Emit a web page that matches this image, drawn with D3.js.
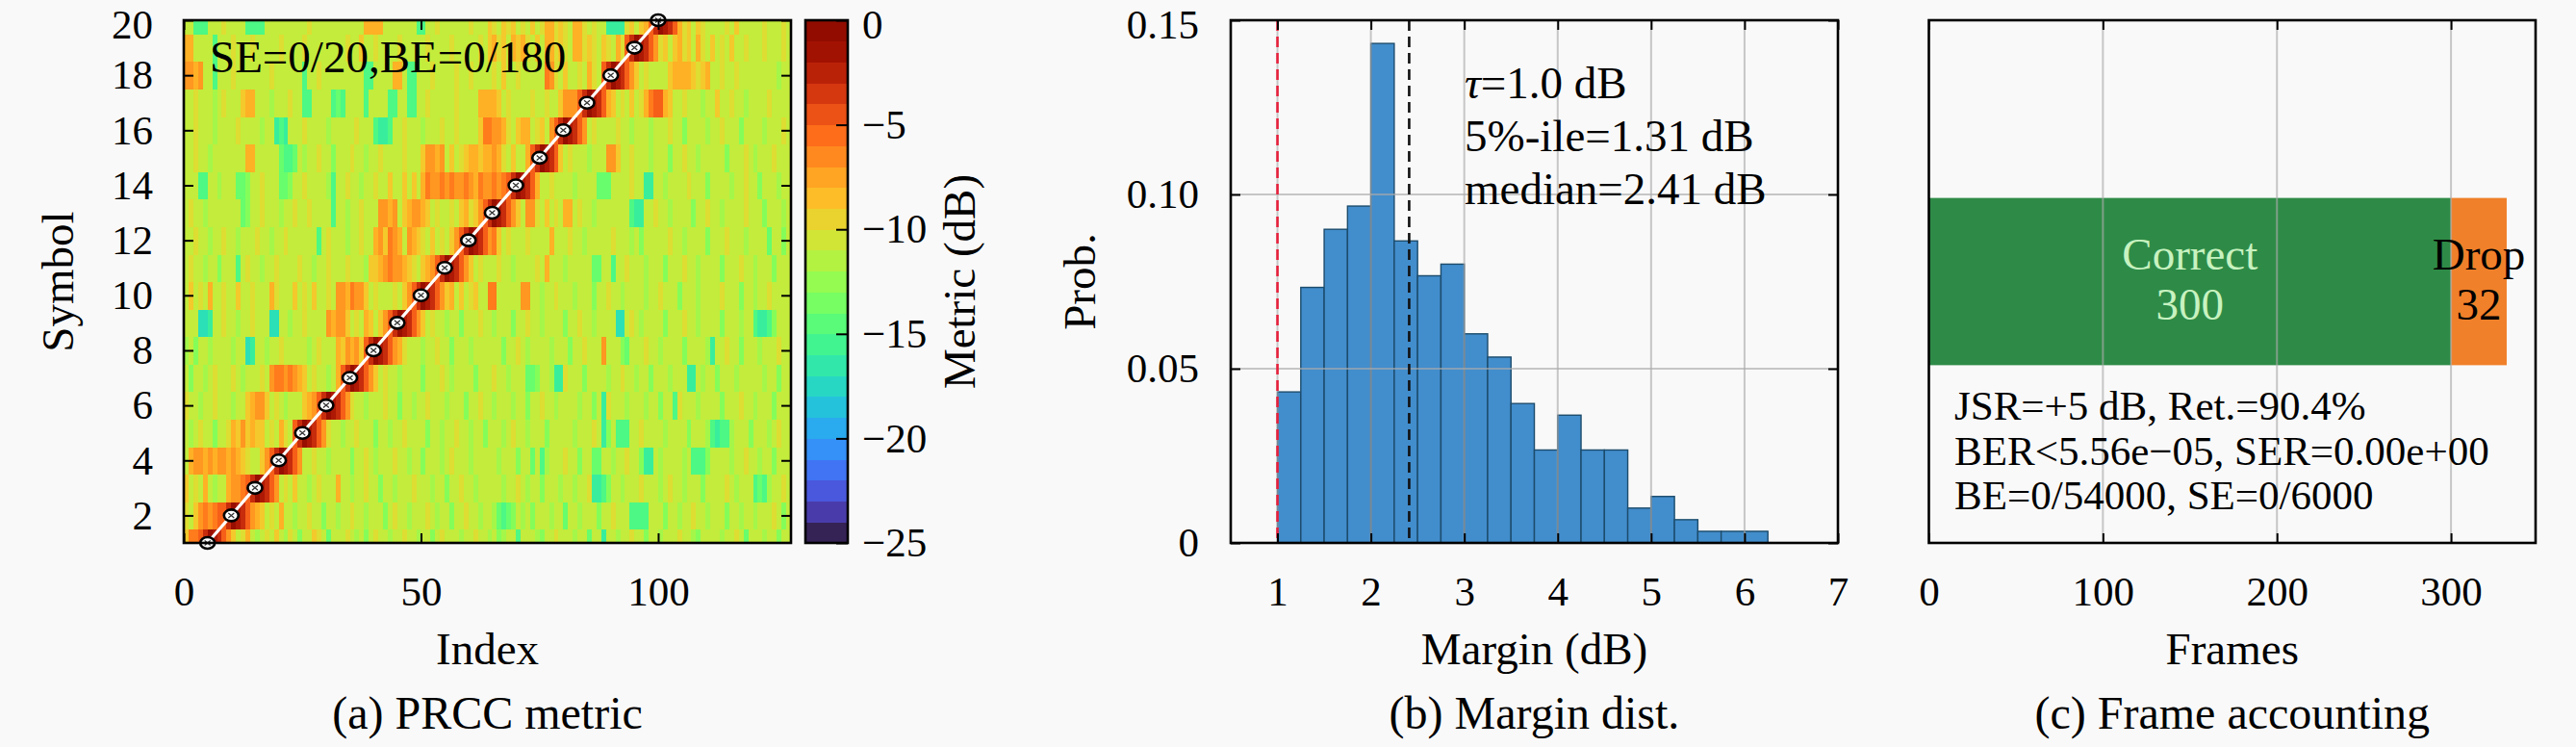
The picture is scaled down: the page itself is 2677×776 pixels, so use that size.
<!DOCTYPE html>
<html>
<head>
<meta charset="utf-8">
<script src="https://cdn.jsdelivr.net/npm/d3@7"></script>
<style>
  body { margin: 0; background: #f9f9f9; }
  svg { display: block; }
</style>
</head>
<body>
<svg id="fig"></svg>
<script>
// ---- data ----

// (a) metric per symbol row (symbol 1 first), one char per index 0..127,
// value in dB = -parseInt(char, 36)  ('0' = 0 dB ... 'b' = -11 dB ... 'h' = -17 dB)
var metricRows = [
  "96653123 579ba8bc bab9bcab dbb9abeb bbabcbdb abbcbbab bcbbdbab bbcbbabb cbdcbbfb bbcdbbab bbcbbebb gbbcbbab bdbbcbbb abbcdbbb bcbbabeb bbcbbdbb",
  "ab976765 53123578 9bab8bbc bbabbdbb cbbabbcb bbdbabbc bbbabcbb dbbabbcb bcefedbc bdbbbcbb ebbcbbbd bbabbbff ffbbbdbb cbbabbcb bbdbbcbb cbbbabdb",
  "9bab8bcb b8776531 2357bab9 bbcbabbb 8bbcbbab bdbbcbbb abbbcbbd bbabbcbb bbbcbbab cbbdbbbc bbcbbagg fdbbcbbb abbbcbab bcbbbdbb bbabcbbb fefcbbab",
  "b8778787 78789abb 97531235 7bbabbcb bbbdbbab cbbbabbc bbdbbbcb abbbcbbb bbcbbbdb bebfcbbb abbdbbee bbcbbabb dggbcbbb bcbfffdb bbbcbbab bcbbdbbb",
  "bcbabbdb ba897989 9bab8ab5 312357ab bcbbabbb dbbcbbab bbbdbbcb babbcbbd bbbcbabb cbbbdbbb bbcbbbab gdbfffbb abbbbcbb bbdbbbcf gffcbbbd bbbcbabb",
  "abbcbbab bbcbb987 79babcbb b9875312 357abbcb bbabbdbb cbbabbbc bbbdbbab bcbbbcbb dbbabbcb bbbcbbdb gabbbcbb bcbbdbbf abbbcbbb bdbbbabb cbbbdbbb",
  "bdbbcbab bbabcbbb ab766767 89babbcb 85312357 9babbcbb bbdbbbab cbbbbdbb babbcbbb eedbbcgg abbbdbbb bcbbabbc bbdbbbcb bbggbcbb dbbbcbbb bbcbbdbb",
  "cbdbbcbb bbcbbhgb bcbbabbb bbcbabbb 89787953 123578ab bbcbbabb dbbbcbbb bbbdbbab cbbbbcbb bdbbabbb 7bbbdebb babbcbbb bdbbbbcg bbabbdbb bcbbbabb",
  "bbbhhgbb abbcbbab bbhhbbcb babbbb78 779bab89 b9753123 579babbc bbdbbbab bcbbbdbb abbcbbbb dbbabbcb bbbhhbab cbbbbdbb babbcbbb bdbbbcbb fggfdbbb",
  "b9bab8bb abb9bbab bb8abbb9 bab9bbab 7786779b abbbab97 53123579 8b9ba9bb 66bbbbb7 7bbcbbab bbcbbbdb babbcbbb bcbbabbb dbbbcbbb babbbdbb cbbabbbb",
  "babbcbbd bbbfbabb cbbabbbb abbcbbab bbabbbc9 98767789 ab987531 23579bab bbabbcbb bbab8bbb cbbbbbee bbfbbabb bcbbbdbb babbcbbb bdbbbabb cbbbdbbb",
  "bbabbcbb abbcbbba bbcbbabb bbbbfbab bbcbbabb 879678b7 89ab9bab 97531235 769babbb abbbb8bb babbcbbb bbabbbcb dbbbbbab bcbbbbdb bbabbbcb bbbebbdb",
  "babbcbbb bbbbedbb abbbcbba bbabbbbf bbcbbabb b7787b98 7789babb ab98a975 3123579b 77ab9bab 88babbcb bbbbbbfg gbbabbcb bbbdbbab bcbbbbab bbdbbbcb",
  "bbbffbbc bbbeedbb abbbeedb babbbbcf bbabbcbb abb9bb9b 9b867767 67767867 76765312 358bbabb bbcbbbbe eebbbbab bggbbcbb bbabbbdb bbbcbbab bdbbbcbb",
  "bbabbcbb bbbbb88b bbbbeffe bcbbabbd bbbabbcb babbbbab bb97787b 9ba98898 878ab9bb 85312359 babbbcbb b779bbab bbcbbbdb babbcbbb bbdbbbab cbbbabbb",
  "bbabbbcb bbbabbbb cbbgfgbb babbbbcb bbbbabbb fggfbbab bbcbbbab babbbb96 6778ab98 8ba9b753 12357bab bbbabbcb bbcbbbab bdbbbbcb babbbdbb bbcbbbab",
  "bbabbbcb abbb988b bbcbbbab bffbbbbf efbbbbfb bbbffbbf fbbabbbb babbbb88 889babbb babbabb9 77753123 589bab9b a865589b babbbcbb 9bbabbcb bbbabbbb",
  "7787bbfb bbabbbbb bbabbbbb bfbbabbb bbbbbbff bbbb88bf fbbbabbb babbabbb bab9bbab bbbb67ab 9bbab8ab 53123579 babbbb98 8889a98b babbabbb bbbbbcbb",
  "88bbbbfb bbabbbab bbbbabbb babbbbbb bbabb9bb abbbbabb bbbabbbb abbbbbab 98a9b898 ab9b88a9 ab88a9ab 9ab8a531 2357a9b9 8a9b8ab9 bab9bbab bbabbbab",
  "bbfffbbb abbbbfff fbbbbbbb bbabbbbb bbbbbb88 88bbbbbb bffbbabb bbbbabbb 9ab9a9ba b9ba88a9 ab88abab bgggga9b 98531235 8a9b9abb bbab9bbb bbabbbab"
];
var peakSymbol = [1, 2, 3, 4, 5, 6, 7, 8, 9, 10, 11, 12, 13, 14, 15, 16, 17, 18, 19, 20];
var peakIndex = [5, 10, 15, 20, 25, 30, 35, 40, 45, 50, 55, 60, 65, 70, 75, 80, 85, 90, 95, 100];
var indexTicks = [0, 50, 100];
var symbolTicks = [2, 4, 6, 8, 10, 12, 14, 16, 18, 20];
var metricTicks = [0, -5, -10, -15, -20, -25];

// (b) margin histogram, bins of 0.25 dB, counts out of 300 frames
var binLeft = [1.00, 1.25, 1.50, 1.75, 2.00, 2.25, 2.50, 2.75, 3.00, 3.25, 3.50,
               3.75, 4.00, 4.25, 4.50, 4.75, 5.00, 5.25, 5.50, 5.75, 6.00];
var binCount = [13, 22, 27, 29, 43, 26, 23, 24, 18, 16, 12, 8, 11, 8, 8, 3, 4, 2, 1, 1, 1];
var binWidth = 0.25;
var binTotal = 300;
var tauDb = 1.0;
var medianDb = 2.41;
var marginTicks = [1, 2, 3, 4, 5, 6, 7];
var probTicks = [0, 0.05, 0.10, 0.15];
var marginNotes = ["=1.0 dB", "5%-ile=1.31 dB", "median=2.41 dB"];

// (c) frame accounting
var frameLabels = ["Correct", "Drop"];
var frameCounts = [300, 32];
var frameTicks = [0, 100, 200, 300];
var frameNotes = ["JSR=+5 dB, Ret.=90.4%", "BER<5.56e\u221205, SER=0.00e+00", "BE=0/54000, SE=0/6000"];

// ---- drawing ----
var W = 2677, H = 776;
var SERIF = '"Liberation Serif", "Tinos", "Times New Roman", "DejaVu Serif", serif';
var svg = d3.select("#fig").attr("width", W).attr("height", H)
            .attr("font-family", SERIF);
svg.append("rect").attr("width", W).attr("height", H).attr("fill", "#f9f9f9");

var TICK = 10;

function styleAxis(g, size){
    g.attr("font-family", SERIF).attr("font-size", size || 43);
    g.select(".domain").remove();
    g.selectAll(".tick line").attr("stroke", "#000").attr("stroke-width", 2);
    g.selectAll(".tick text").attr("fill", "#000");
}

// keep the top tick label inside the picture
function nudgeTop(g, top){
    g.selectAll(".tick text").filter(function(d){ return d === top; }).attr("dy", "0.42em");
}

function frameBox(box){
    svg.append("rect")
        .attr("x", box.l).attr("y", box.t)
        .attr("width", box.r - box.l).attr("height", box.b - box.t)
        .attr("fill", "none").attr("stroke", "#000").attr("stroke-width", 2.6);
}

function mirrorTicks(box, x, y, xt, yt){
    if(xt){
        svg.append("g").attr("transform", "translate(0," + box.t + ")")
            .call(d3.axisTop(x).tickValues(xt).tickSize(-TICK).tickFormat(""))
            .call(styleAxis);
    }
    if(yt){
        svg.append("g").attr("transform", "translate(" + box.r + ",0)")
            .call(d3.axisRight(y).tickValues(yt).tickSize(-TICK).tickFormat(""))
            .call(styleAxis);
    }
}

function label(x, y, txt, size, rotate){
    var t = svg.append("text")
        .attr("text-anchor", "middle")
        .attr("font-size", size)
        .attr("fill", "#000")
        .text(txt);
    if(rotate){
        t.attr("transform", "translate(" + x + "," + y + ") rotate(-90)");
    }else{
        t.attr("x", x).attr("y", y);
    }
    return t;
}

// ===== (a) PRCC metric =====
var ba = {l: 191, r: 822, t: 21, b: 564};
var xA = d3.scaleLinear().domain([0, 128]).range([ba.l, ba.r]);
var yA = d3.scaleLinear().domain([1, 20]).range([ba.b, ba.t]);
var color = d3.scaleSequential(d3.interpolateTurbo).domain([-25, 0]);

var cells = [];
metricRows.forEach(function(row, r){
    var s = row.replace(/ /g, "");
    for(var i = 0; i < s.length; i++){
        cells.push({sym: r + 1, idx: i, v: -parseInt(s[i], 36)});
    }
});

svg.append("clipPath").attr("id", "clipA")
    .append("rect")
    .attr("x", ba.l).attr("y", ba.t)
    .attr("width", ba.r - ba.l).attr("height", ba.b - ba.t);

svg.append("g").attr("clip-path", "url(#clipA)")
    .selectAll("rect")
    .data(cells)
    .enter()
    .append("rect")
    .attr("x", function(d){ return xA(d.idx); })
    .attr("width", function(d){ return xA(d.idx + 1) - xA(d.idx) + 0.6; })
    .attr("y", function(d){ return yA(d.sym + 0.5); })
    .attr("height", function(d){ return yA(d.sym - 0.5) - yA(d.sym + 0.5) + 0.6; })
    .attr("fill", function(d){ return color(d.v); })
    .attr("shape-rendering", "crispEdges");

var peaks = peakSymbol.map(function(s, i){ return {sym: s, idx: peakIndex[i]}; });
var line = d3.line()
    .x(function(d){ return xA(d.idx); })
    .y(function(d){ return yA(d.sym); });
svg.append("path")
    .datum(peaks)
    .attr("d", line)
    .attr("fill", "none")
    .attr("stroke", "#fff")
    .attr("stroke-width", 3.2);

var mk = svg.append("g").selectAll("g")
    .data(peaks)
    .enter()
    .append("g")
    .attr("transform", function(d){ return "translate(" + xA(d.idx) + "," + yA(d.sym) + ")"; });
mk.append("ellipse").attr("rx", 7.5).attr("ry", 6)
    .attr("fill", "#fff").attr("stroke", "#000").attr("stroke-width", 2.6);
mk.append("path").attr("d", "M-3,-2.5L3,2.5M-3,2.5L3,-2.5")
    .attr("stroke", "#333").attr("stroke-width", 1.3);

svg.append("g").attr("transform", "translate(0," + ba.b + ")")
    .call(d3.axisBottom(xA).tickValues(indexTicks).tickSize(-TICK).tickPadding(34))
    .call(styleAxis);
svg.append("g").attr("transform", "translate(" + ba.l + ",0)")
    .call(d3.axisLeft(yA).tickValues(symbolTicks).tickSize(-TICK).tickPadding(32))
    .call(styleAxis)
    .call(nudgeTop, 20);
mirrorTicks(ba, xA, yA, indexTicks, symbolTicks);
frameBox(ba);

svg.append("text")
    .attr("x", 218).attr("y", 75)
    .attr("font-size", 47)
    .attr("fill", "#000")
    .text("SE=0/20,BE=0/180");

label((ba.l + ba.r) / 2, 690, "Index", 47);
label(76, (ba.t + ba.b) / 2, "Symbol", 47, true);
label((ba.l + ba.r) / 2, 757, "(a) PRCC metric", 48);

// colorbar
var cb = {l: 837, r: 881, t: 21, b: 564};
var yCb = d3.scaleLinear().domain([-25, 0]).range([cb.b, cb.t]);
var cbLevels = d3.range(-25, 0, 1);
svg.append("g").selectAll("rect")
    .data(cbLevels)
    .enter()
    .append("rect")
    .attr("x", cb.l).attr("width", cb.r - cb.l)
    .attr("y", function(d){ return yCb(d + 1); })
    .attr("height", function(d){ return yCb(d) - yCb(d + 1) + 0.5; })
    .attr("fill", function(d){ return color(d + 0.5); })
    .attr("shape-rendering", "crispEdges");
svg.append("g").attr("transform", "translate(" + cb.r + ",0)")
    .call(d3.axisRight(yCb).tickValues(metricTicks).tickSize(-12).tickPadding(15))
    .call(styleAxis)
    .call(nudgeTop, 0);
frameBox(cb);
label(1013, (cb.t + cb.b) / 2, "Metric (dB)", 47, true);

// ===== (b) Margin dist. =====
var bb = {l: 1279, r: 1910, t: 21, b: 564};
var xB = d3.scaleLinear().domain([0.5, 7]).range([bb.l, bb.r]);
var yB = d3.scaleLinear().domain([0, 0.15]).range([bb.b, bb.t]);

var bins = binLeft.map(function(x0, i){
    return {x0: x0, x1: x0 + binWidth, p: binCount[i] / binTotal};
});
svg.append("g").selectAll("rect")
    .data(bins)
    .enter()
    .append("rect")
    .attr("x", function(d){ return xB(d.x0); })
    .attr("width", function(d){ return xB(d.x1) - xB(d.x0); })
    .attr("y", function(d){ return yB(d.p); })
    .attr("height", function(d){ return yB(0) - yB(d.p); })
    .attr("fill", "#428dcc")
    .attr("stroke", "#1c4c6c")
    .attr("stroke-width", 1.4);

// grid on top, semi transparent
svg.append("g").selectAll("line.gx")
    .data(marginTicks)
    .enter()
    .append("line")
    .attr("x1", function(d){ return xB(d); }).attr("x2", function(d){ return xB(d); })
    .attr("y1", bb.t).attr("y2", bb.b)
    .attr("stroke", "#aaaaaa").attr("stroke-opacity", 0.65).attr("stroke-width", 2);
svg.append("g").selectAll("line.gy")
    .data(probTicks.slice(1, 3))
    .enter()
    .append("line")
    .attr("x1", bb.l).attr("x2", bb.r)
    .attr("y1", function(d){ return yB(d); }).attr("y2", function(d){ return yB(d); })
    .attr("stroke", "#aaaaaa").attr("stroke-opacity", 0.65).attr("stroke-width", 2);

svg.append("line")
    .attr("x1", xB(tauDb)).attr("x2", xB(tauDb)).attr("y1", bb.t).attr("y2", bb.b)
    .attr("stroke", "#e8203c").attr("stroke-width", 2.6).attr("stroke-dasharray", "11,6");
svg.append("line")
    .attr("x1", xB(medianDb)).attr("x2", xB(medianDb)).attr("y1", bb.t).attr("y2", bb.b)
    .attr("stroke", "#111").attr("stroke-width", 2.6).attr("stroke-dasharray", "11,6");

svg.append("g").attr("transform", "translate(0," + bb.b + ")")
    .call(d3.axisBottom(xB).tickValues(marginTicks).tickSize(-TICK).tickPadding(34)
        .tickFormat(d3.format("d")))
    .call(styleAxis);
svg.append("g").attr("transform", "translate(" + bb.l + ",0)")
    .call(d3.axisLeft(yB).tickValues(probTicks).tickSize(-TICK).tickPadding(33)
        .tickFormat(function(d){ return d === 0 ? "0" : d3.format(".2f")(d); }))
    .call(styleAxis)
    .call(nudgeTop, 0.15);
mirrorTicks(bb, xB, yB, marginTicks, probTicks);
frameBox(bb);

var nb = svg.append("text").attr("font-size", 47).attr("fill", "#000");
marginNotes.forEach(function(s, i){
    var t = nb.append("tspan").attr("x", 1522).attr("y", 102 + i * 55);
    if(i === 0){
        t.append("tspan").attr("font-style", "italic").text("\u03c4");
    }
    t.append("tspan").text(s);
});

label((bb.l + bb.r) / 2, 690, "Margin (dB)", 47);
label(1138, (bb.t + bb.b) / 2, "Prob.", 47, true);
label((bb.l + bb.r) / 2, 757, "(b) Margin dist.", 48);

// ===== (c) Frame accounting =====
var bc = {l: 2004.5, r: 2635, t: 21, b: 564};
var frameTotal = d3.sum(frameCounts);
var xC = d3.scaleLinear().domain([0, frameTotal * 1.05]).range([bc.l, bc.r]);
var yC = d3.scaleLinear().domain([-1, 1]).range([bc.b, bc.t]);
var ends = d3.cumsum(frameCounts);
var segs = frameLabels.map(function(name, i){
    return {name: name, n: frameCounts[i], x0: ends[i] - frameCounts[i], x1: ends[i]};
});
var segColor = {"Correct": "#2e8b47", "Drop": "#f0802a"};
var segText = {"Correct": "#c8f2c0", "Drop": "#000"};

svg.append("g").selectAll("rect")
    .data(segs)
    .enter()
    .append("rect")
    .attr("x", function(d){ return xC(d.x0); })
    .attr("width", function(d){ return xC(d.x1) - xC(d.x0); })
    .attr("y", yC(0.32))
    .attr("height", yC(-0.32) - yC(0.32))
    .attr("fill", function(d){ return segColor[d.name]; });

svg.append("g").selectAll("line")
    .data(frameTicks.slice(1))
    .enter()
    .append("line")
    .attr("x1", function(d){ return xC(d); }).attr("x2", function(d){ return xC(d); })
    .attr("y1", bc.t).attr("y2", bc.b)
    .attr("stroke", "#aaaaaa").attr("stroke-opacity", 0.65).attr("stroke-width", 2);

var segLab = svg.append("g").selectAll("text")
    .data(segs)
    .enter()
    .append("text")
    .attr("text-anchor", "middle")
    .attr("font-size", 47)
    .attr("fill", function(d){ return segText[d.name]; });
segLab.append("tspan")
    .attr("x", function(d){ return xC((d.x0 + d.x1) / 2); })
    .attr("y", 280)
    .text(function(d){ return d.name; });
segLab.append("tspan")
    .attr("x", function(d){ return xC((d.x0 + d.x1) / 2); })
    .attr("y", 332)
    .text(function(d){ return d.n; });

svg.append("g").attr("transform", "translate(0," + bc.b + ")")
    .call(d3.axisBottom(xC).tickValues(frameTicks).tickSize(-TICK).tickPadding(34))
    .call(styleAxis);
mirrorTicks(bc, xC, yC, frameTicks, null);
frameBox(bc);

var nc = svg.append("text").attr("font-size", 43).attr("fill", "#000");
frameNotes.forEach(function(s, i){
    nc.append("tspan").attr("x", 2031).attr("y", 436 + i * 46.5).text(s);
});

label((bc.l + bc.r) / 2, 690, "Frames", 47);
label((bc.l + bc.r) / 2, 757, "(c) Frame accounting", 48);
</script>
</body>
</html>
